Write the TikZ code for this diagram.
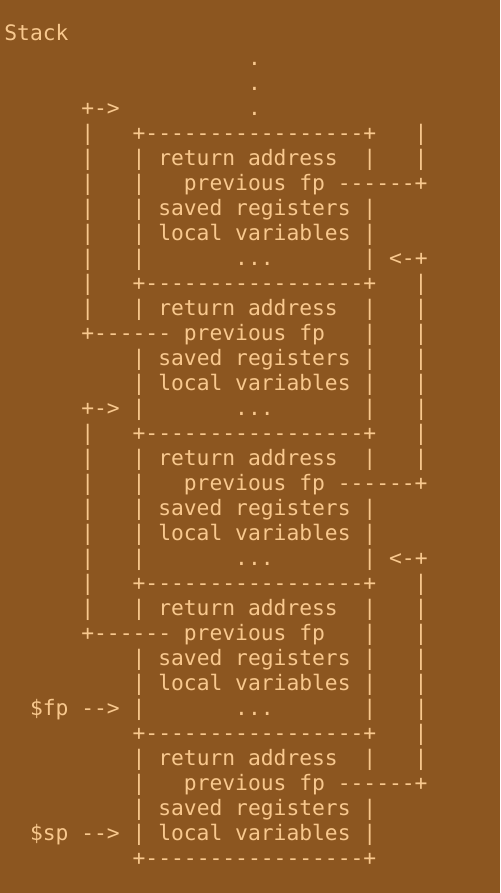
\documentclass[tikz,border=0pt]{standalone}
\usepackage{fontspec}
\newfontfamily\asciimono{DejaVu Sans Mono}
\definecolor{bgbrown}{HTML}{8C5620}
\definecolor{txtorange}{HTML}{F8C88E}
\begin{document}
\begin{tikzpicture}[x=1pt,y=1pt,
  ln/.style={anchor=base west,inner sep=0pt,outer sep=0pt,text=txtorange,
    font=\asciimono\fontsize{21.3}{25}\selectfont}]
\fill[bgbrown] (0,0) rectangle (500,-893);
\useasboundingbox (0,0) rectangle (500,-893);
\def\xo{4.4}
\node[ln] (l1)  at (\xo,-40.5)  {Stack};
\node[ln] (l2)  at (\xo,-65.5)  {~~~~~~~~~~~~~~~~~~~.};
\node[ln] (l3)  at (\xo,-90.5)  {~~~~~~~~~~~~~~~~~~~.};
\node[ln] (l4)  at (\xo,-115.5) {~~~~~~+->~~~~~~~~~~.};
\node[ln] (l5)  at (\xo,-140.5) {~~~~~~|~~~+-----------------+~~~|};
\node[ln] (l6)  at (\xo,-165.5) {~~~~~~|~~~|~return~address~~|~~~|};
\node[ln] (l7)  at (\xo,-190.5) {~~~~~~|~~~|~~~previous~fp~------+};
\node[ln] (l8)  at (\xo,-215.5) {~~~~~~|~~~|~saved~registers~|};
\node[ln] (l9)  at (\xo,-240.5) {~~~~~~|~~~|~local~variables~|};
\node[ln] (l10) at (\xo,-265.5) {~~~~~~|~~~|~~~~~~~...~~~~~~~|~<-+};
\node[ln] (l11) at (\xo,-290.5) {~~~~~~|~~~+-----------------+~~~|};
\node[ln] (l12) at (\xo,-315.5) {~~~~~~|~~~|~return~address~~|~~~|};
\node[ln] (l13) at (\xo,-340.5) {~~~~~~+------~previous~fp~~~|~~~|};
\node[ln] (l14) at (\xo,-365.5) {~~~~~~~~~~|~saved~registers~|~~~|};
\node[ln] (l15) at (\xo,-390.5) {~~~~~~~~~~|~local~variables~|~~~|};
\node[ln] (l16) at (\xo,-415.5) {~~~~~~+->~|~~~~~~~...~~~~~~~|~~~|};
\node[ln] (l17) at (\xo,-440.5) {~~~~~~|~~~+-----------------+~~~|};
\node[ln] (l18) at (\xo,-465.5) {~~~~~~|~~~|~return~address~~|~~~|};
\node[ln] (l19) at (\xo,-490.5) {~~~~~~|~~~|~~~previous~fp~------+};
\node[ln] (l20) at (\xo,-515.5) {~~~~~~|~~~|~saved~registers~|};
\node[ln] (l21) at (\xo,-540.5) {~~~~~~|~~~|~local~variables~|};
\node[ln] (l22) at (\xo,-565.5) {~~~~~~|~~~|~~~~~~~...~~~~~~~|~<-+};
\node[ln] (l23) at (\xo,-590.5) {~~~~~~|~~~+-----------------+~~~|};
\node[ln] (l24) at (\xo,-615.5) {~~~~~~|~~~|~return~address~~|~~~|};
\node[ln] (l25) at (\xo,-640.5) {~~~~~~+------~previous~fp~~~|~~~|};
\node[ln] (l26) at (\xo,-665.5) {~~~~~~~~~~|~saved~registers~|~~~|};
\node[ln] (l27) at (\xo,-690.5) {~~~~~~~~~~|~local~variables~|~~~|};
\node[ln] (l28) at (\xo,-715.5) {~~\$fp~-->~|~~~~~~~...~~~~~~~|~~~|};
\node[ln] (l29) at (\xo,-740.5) {~~~~~~~~~~+-----------------+~~~|};
\node[ln] (l30) at (\xo,-765.5) {~~~~~~~~~~|~return~address~~|~~~|};
\node[ln] (l31) at (\xo,-790.5) {~~~~~~~~~~|~~~previous~fp~------+};
\node[ln] (l32) at (\xo,-815.5) {~~~~~~~~~~|~saved~registers~|};
\node[ln] (l33) at (\xo,-840.5) {~~\$sp~-->~|~local~variables~|};
\node[ln] (l34) at (\xo,-865.5) {~~~~~~~~~~+-----------------+};
\end{tikzpicture}
\end{document}
